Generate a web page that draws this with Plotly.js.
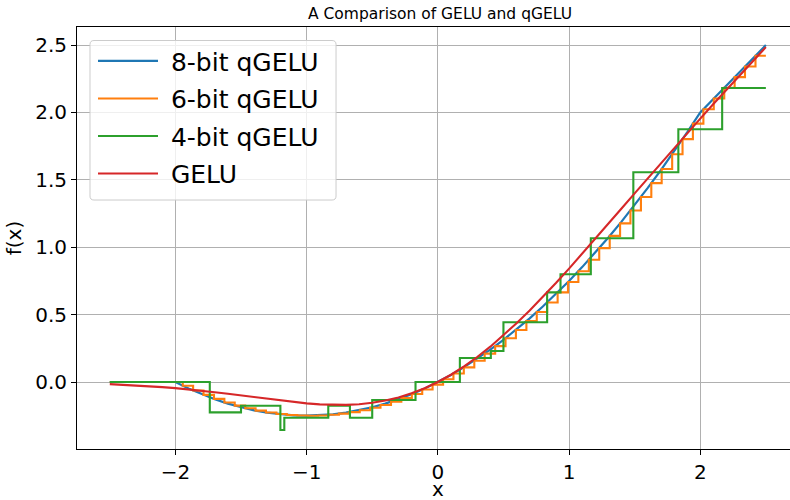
<!DOCTYPE html>
<html>
<head>
<meta charset="utf-8">
<script src="https://cdn.plot.ly/plotly-3.0.1.min.js"></script>
<style>html,body{margin:0;padding:0;background:#fff;}#chart{width:790px;height:500px;}</style>
</head>
<body>
<div id="chart"></div>
<script>
// GELU reference curve (read at 0.1 steps)
const xGelu = [-2.5,-2.4,-2.3,-2.2,-2.1,-2.0,-1.9,-1.8,-1.7,-1.6,-1.5,-1.4,-1.3,-1.2,-1.1,-1.0,-0.9,-0.8,-0.7,-0.6,-0.5,-0.4,-0.3,-0.2,-0.1,0.0,0.1,0.2,0.3,0.4,0.5,0.6,0.7,0.8,0.9,1.0,1.1,1.2,1.3,1.4,1.5,1.6,1.7,1.8,1.9,2.0,2.1,2.2,2.3,2.4,2.5];
const yGelu = [-0.0155,-0.0197,-0.0246,-0.0306,-0.0376,-0.0455,-0.0545,-0.0646,-0.0758,-0.0877,-0.1002,-0.1131,-0.1258,-0.1381,-0.1493,-0.1587,-0.1657,-0.1695,-0.1694,-0.1646,-0.1543,-0.1378,-0.1146,-0.0841,-0.0460,0.0,0.0540,0.1159,0.1854,0.2622,0.3457,0.4354,0.5306,0.6305,0.7343,0.8413,0.9507,1.0619,1.1742,1.2869,1.3998,1.5123,1.6242,1.7354,1.8455,1.9545,2.0624,2.1694,2.2754,2.3803,2.4845];

// 8-bit qGELU (fine staircase, read at 0.1 steps)
const x8 = [-2.5,-2.4,-2.3,-2.2,-2.1,-2.0,-1.9,-1.8,-1.7,-1.6,-1.5,-1.4,-1.3,-1.2,-1.1,-1.0,-0.9,-0.8,-0.7,-0.6,-0.5,-0.4,-0.3,-0.2,-0.1,0.0,0.1,0.2,0.3,0.4,0.5,0.6,0.7,0.8,0.9,1.0,1.1,1.2,1.3,1.4,1.5,1.6,1.7,1.8,1.9,2.0,2.1,2.2,2.3,2.4,2.5];
const y8 = [0,0,0,0,0,0,-0.0475,-0.09,-0.1275,-0.16,-0.1875,-0.21,-0.2275,-0.24,-0.2475,-0.25,-0.2475,-0.24,-0.2275,-0.21,-0.1875,-0.16,-0.1275,-0.09,-0.0475,0,0.0525,0.11,0.1725,0.24,0.3125,0.39,0.4725,0.56,0.6525,0.75,0.8525,0.96,1.0725,1.19,1.3125,1.44,1.5725,1.71,1.8525,2.0,2.1,2.2,2.3,2.4,2.5];

// 6-bit qGELU (step starts and step values)
const x6 = [-2.500,-2.421,-2.341,-2.262,-2.183,-2.103,-2.024,-1.944,-1.865,-1.786,-1.706,-1.627,-1.548,-1.468,-1.389,-1.310,-1.230,-1.151,-1.071,-0.992,-0.913,-0.833,-0.754,-0.675,-0.595,-0.516,-0.437,-0.357,-0.278,-0.198,-0.119,-0.040,0.040,0.119,0.198,0.278,0.357,0.437,0.516,0.595,0.675,0.754,0.833,0.913,0.992,1.071,1.151,1.230,1.310,1.389,1.468,1.548,1.627,1.706,1.786,1.865,1.944,2.024,2.103,2.183,2.262,2.341,2.421,2.500];
const y6 = [0,0,0,0,0,0,0,-0.0272,-0.0629,-0.0956,-0.1254,-0.1517,-0.1749,-0.1952,-0.2122,-0.2260,-0.2368,-0.2443,-0.2487,-0.2500,-0.2481,-0.2430,-0.2349,-0.2236,-0.2090,-0.1914,-0.1708,-0.1466,-0.1197,-0.0892,-0.0560,-0.0196,0.0204,0.0630,0.1088,0.1583,0.2104,0.2662,0.3246,0.3860,0.4514,0.5191,0.5900,0.6649,0.7420,0.8223,0.9067,0.9932,1.0840,1.1768,1.2728,1.3731,1.4753,1.5806,1.6904,1.8021,1.9168,2.024,2.103,2.183,2.262,2.341,2.421,2.421];

// 4-bit qGELU (step starts and step values)
const x4 = [-2.5,-1.738,-1.5,-1.2,-1.17,-0.835,-0.67,-0.5,-0.17,0.168,0.404,0.5,0.833,0.935,1.166,1.49,1.833,2.167,2.5];
const y4 = [0,-0.225,-0.176,-0.356,-0.265,-0.176,-0.265,-0.134,0,0.178,0.23,0.443,0.665,0.80,1.067,1.556,1.875,2.181,2.181];

const names = ['8-bit qGELU','6-bit qGELU','4-bit qGELU','GELU'];
const colors = ['#1f77b4','#ff7f0e','#2ca02c','#d62728'];

const traces = [
  {x:x8, y:y8, name:names[0], mode:'lines', line:{color:colors[0], width:2.2}},
  {x:x6, y:y6, name:names[1], mode:'lines', line:{color:colors[1], width:2.1, shape:'hv'}},
  {x:x4, y:y4, name:names[2], mode:'lines', line:{color:colors[2], width:2.1, shape:'hv'}},
  {x:xGelu, y:yGelu, name:names[3], mode:'lines', line:{color:colors[3], width:2.1}}
];
traces.forEach((t,i)=>{t.legendgroup='g'+i; t.name='\u00a0'+t.name;});

// legend frame (rounded box, paper coordinates)
const bx0=0.01823, bx1=0.3633, by0=0.590, by1=0.968, rx=0.0056, ry=0.0095;
const boxPath = 'M'+(bx0+rx)+','+by1+' L'+(bx1-rx)+','+by1+' Q'+bx1+','+by1+' '+bx1+','+(by1-ry)+
  ' L'+bx1+','+(by0+ry)+' Q'+bx1+','+by0+' '+(bx1-rx)+','+by0+' L'+(bx0+rx)+','+by0+
  ' Q'+bx0+','+by0+' '+bx0+','+(by0+ry)+' L'+bx0+','+(by1-ry)+' Q'+bx0+','+by1+' '+(bx0+rx)+','+by1+' Z';

const font = 'DejaVu Sans, sans-serif';
const layout = {
  width:790, height:500,
  margin:{l:77, r:0, t:27, b:51, pad:0},
  paper_bgcolor:'#fff', plot_bgcolor:'#fff',
  font:{family:font, color:'#000'},
  title:{text:'A Comparison of GELU and qGELU', font:{size:15.5, family:font, color:'#000'}, xref:'container', x:440/790, xanchor:'center', yref:'container', y:1-14/500, yanchor:'middle'},
  xaxis:{range:[-2.75,2.684], tickvals:[-2,-1,0,1,2], ticktext:['\u22122','\u22121','0','1','2'],
    showgrid:true, gridcolor:'#b0b0b0', gridwidth:1, zeroline:false,
    showline:true, linecolor:'#000', linewidth:1, mirror:true,
    ticks:'outside', ticklen:5, tickwidth:1, tickcolor:'#000',
    tickfont:{size:20, family:font, color:'#000'}},
  yaxis:{range:[-0.497,2.634], tickvals:[0,0.5,1,1.5,2,2.5], ticktext:['0.0','0.5','1.0','1.5','2.0','2.5'],
    showgrid:true, gridcolor:'#b0b0b0', gridwidth:1, zeroline:false,
    showline:true, linecolor:'#000', linewidth:1, mirror:false,
    ticks:'outside', ticklen:5, tickwidth:1, tickcolor:'#000',
    tickfont:{size:20, family:font, color:'#000'},
    title:{text:'f(x)', font:{size:20, family:font, color:'#000'}, standoff:8}},
  annotations:[{text:'x', xref:'x', x:0, yref:'paper', y:-0.0955, yanchor:'middle', xanchor:'center', height:20, showarrow:false, font:{size:20, family:font, color:'#000'}}],
  shapes:[{type:'path', xref:'paper', yref:'paper', path:boxPath, fillcolor:'rgba(255,255,255,0.8)', line:{color:'#cccccc', width:1}, layer:'above'}],
  showlegend:true,
  legend:{x:(93-77)/713, y:0.9735, xanchor:'left', yanchor:'top', bgcolor:'rgba(0,0,0,0)', borderwidth:0,
    font:{size:25, family:font, color:'#000'}, traceorder:'grouped', tracegroupgap:2, itemwidth:60}
};
Plotly.newPlot('chart', traces, layout, {staticPlot:true, displayModeBar:false});
</script>
</body>
</html>
